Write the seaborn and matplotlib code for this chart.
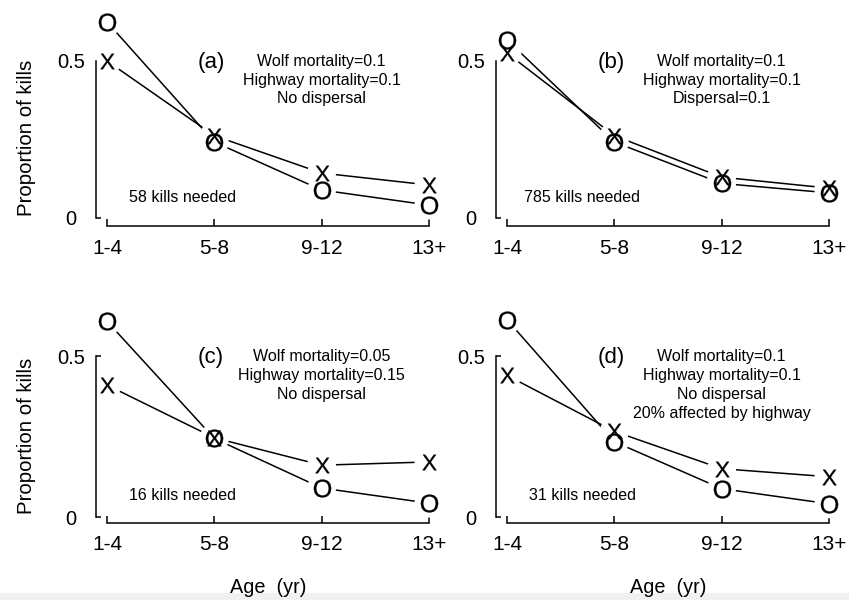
import numpy as np
import pandas as pd
import matplotlib
matplotlib.use("Agg")
import matplotlib.pyplot as plt
import seaborn as sns
from matplotlib.patches import Rectangle

# ---------------- data ----------------
ages = ["1-4", "5-8", "9-12", "13+"]
panel_labels = ["(a)", "(b)", "(c)", "(d)"]

x_a = [0.500, 0.262, 0.143, 0.105]
o_a = [0.624, 0.242, 0.089, 0.041]
x_b = [0.525, 0.262, 0.130, 0.095]
o_b = [0.567, 0.242, 0.110, 0.080]
x_c = [0.410, 0.246, 0.161, 0.171]
o_c = [0.608, 0.244, 0.090, 0.043]
x_d = [0.440, 0.266, 0.150, 0.125]
o_d = [0.613, 0.234, 0.088, 0.041]

cond_a = ["Wolf mortality=0.1", "Highway mortality=0.1", "No dispersal"]
cond_b = ["Wolf mortality=0.1", "Highway mortality=0.1", "Dispersal=0.1"]
cond_c = ["Wolf mortality=0.05", "Highway mortality=0.15", "No dispersal"]
cond_d = ["Wolf mortality=0.1", "Highway mortality=0.1", "No dispersal",
          "20% affected by highway"]

kills = ["58 kills needed", "785 kills needed", "16 kills needed", "31 kills needed"]

y_ticks = [0, 0.5]
y_ticklabels = ["0", "0.5"]

# ---------------- style ----------------
sns.set_style("white")
plt.rcParams["font.family"] = ["Liberation Sans", "DejaVu Sans"]
plt.rcParams["mathtext.fontset"] = "custom"
plt.rcParams["mathtext.rm"] = "Liberation Sans"
plt.rcParams["axes.edgecolor"] = "black"
plt.rcParams["axes.linewidth"] = 1.1

W, H = 849, 600
fig = plt.figure(figsize=(W / 100, H / 100), dpi=100)
fig.patch.set_facecolor("white")
fig.add_artist(Rectangle((0, 0), 1, 7 / H, transform=fig.transFigure,
                         facecolor="#f1f1f1", edgecolor="none", zorder=0))

xlim = (-0.105, 3.105)
col_left = [95.7, 495.7]
ax_w = 344.5
# rows: (top pixel, bottom pixel, ymin, ymax)
rows = [(10, 226, -0.0255, 0.662), (300, 523, -0.0186, 0.674)]

panels = [
    (x_a, o_a, cond_a, kills[0], panel_labels[0], 0, 0),
    (x_b, o_b, cond_b, kills[1], panel_labels[1], 0, 1),
    (x_c, o_c, cond_c, kills[2], panel_labels[2], 1, 0),
    (x_d, o_d, cond_d, kills[3], panel_labels[3], 1, 1),
]

pos = np.arange(len(ages))

for xs, os_, cond, kill, lab, r, c in panels:
    top, bot, ymin, ymax = rows[r]
    ax = fig.add_axes([col_left[c] / W, 1 - bot / H, ax_w / W, (bot - top) / H])
    ax.set_facecolor("none")
    df = pd.DataFrame({"pos": np.concatenate([pos, pos]),
                       "value": list(xs) + list(os_),
                       "series": ["X"] * len(xs) + ["O"] * len(os_)})
    for name in ["X", "O"]:
        sub = df[df["series"] == name]
        sns.lineplot(data=sub, x="pos", y="value", color="black", linewidth=1.1,
                     ax=ax, zorder=2, legend=False)
    for name in ["X", "O"]:
        sub = df[df["series"] == name]
        sns.scatterplot(data=sub, x="pos", y="value", marker="o", s=430,
                        color="white", edgecolor="none", linewidth=0, ax=ax,
                        zorder=2.2, clip_on=False, legend=False)
    for name, s in [("X", 125), ("O", 165)]:
        sub = df[df["series"] == name]
        sns.scatterplot(data=sub, x="pos", y="value", marker=r"$\mathrm{%s}$" % name,
                        s=s, color="black", edgecolor="black", linewidth=0.2, ax=ax,
                        zorder=3, clip_on=False, legend=False)

    ax.set_xlim(*xlim)
    ax.set_ylim(ymin, ymax)
    ax.set_xticks(pos, ages)
    ax.set_yticks(y_ticks, y_ticklabels)
    for s_ in ["top", "right"]:
        ax.spines[s_].set_visible(False)
    ax.spines["left"].set_bounds(0, 0.5)
    ax.spines["bottom"].set_bounds(0, 3)
    ax.spines["left"].set_zorder(2.5)
    ax.spines["bottom"].set_zorder(2.5)
    ax.tick_params(axis="x", direction="in", length=5, width=1.1, pad=9,
                   labelsize=15, colors="black", bottom=True)
    ax.tick_params(axis="y", direction="in", length=3.5, width=1.1, pad=18,
                   labelsize=14.5, colors="black", left=True)
    for t in ax.get_yticklabels():
        t.set_ha("center")

    ax.set_xlabel("")
    ax.set_ylabel("")
    if c == 0:
        ax.set_ylabel("Proportion of kills", fontsize=14.7, color="black")
        ax.yaxis.set_label_coords((36 - col_left[c]) / ax_w,
                                  (0.25 - ymin) / (ymax - ymin) + 0.005)
    if r == 1:
        ax.set_xlabel("Age  (yr)", fontsize=14.3, color="black")
        ax.xaxis.set_label_coords(0.5, -(578 - bot) / (bot - top))

    ax.text(0.97, 0.496, lab, fontsize=16, ha="center", va="center", color="black")
    step = 0.058
    for i, line in enumerate(cond):
        ax.text(2.0, 0.497 - i * step, line, fontsize=11.5, ha="center",
                va="center", color="black")
    ax.text(0.70, 0.066, kill, fontsize=11.5, ha="center", va="center",
            color="black")

fig.savefig("out.png", dpi=100)
